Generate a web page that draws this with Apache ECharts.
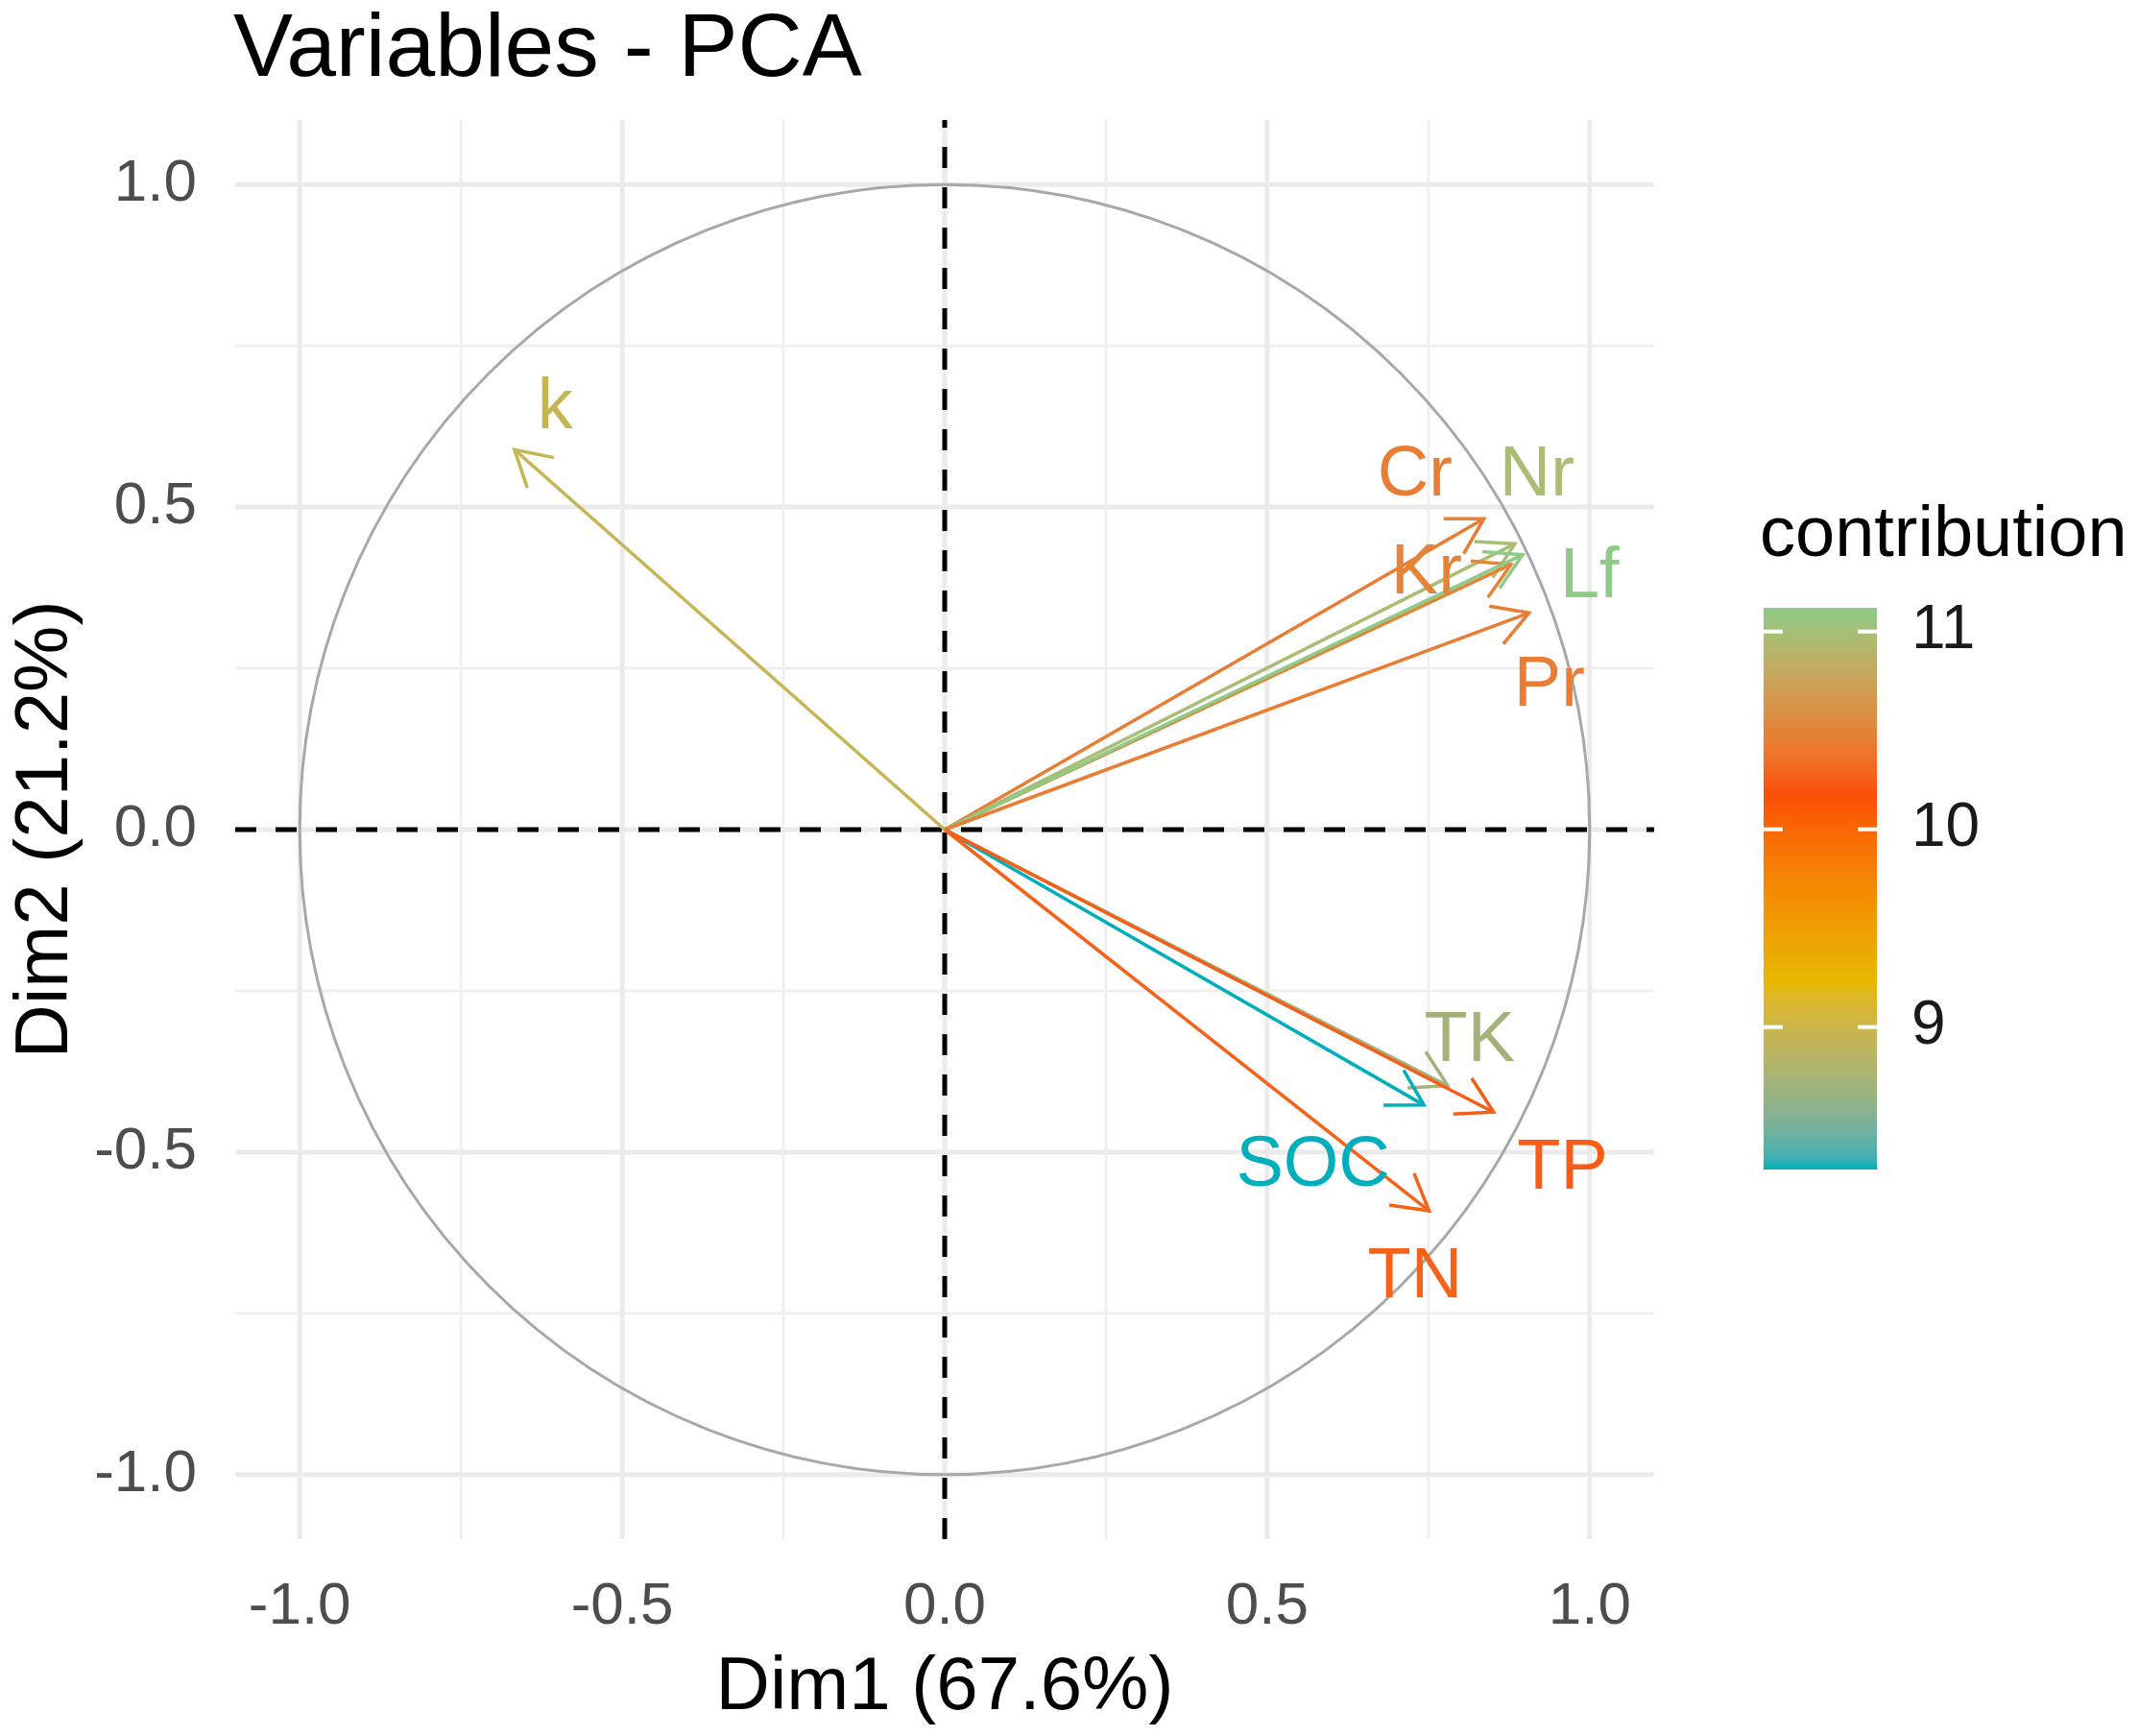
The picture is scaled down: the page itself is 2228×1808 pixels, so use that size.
<!DOCTYPE html>
<html>
<head>
<meta charset="utf-8">
<title>Variables - PCA</title>
<script src="https://cdn.jsdelivr.net/npm/echarts/dist/echarts.min.js"></script>
<style>
    html, body { margin: 0; padding: 0; background: #fff; }
    #J_pcaChart { width: 2228px; height: 1808px; }
</style>
</head>
<body>
<div id="J_pcaChart"></div>
<script>
// variable coordinates on Dim1 / Dim2
var varNames = ['k', 'Cr', 'Nr', 'Kr', 'Lf', 'Pr', 'TK', 'SOC', 'TP', 'TN'];
var dim1 = [-0.667, 0.836, 0.884, 0.878, 0.896, 0.906, 0.780, 0.743, 0.851, 0.751];
var dim2 = [0.589, 0.482, 0.443, 0.411, 0.426, 0.336, -0.397, -0.427, -0.438, -0.591];
var contrib = [8.95, 10.45, 10.98, 10.5, 11.12, 10.45, 8.72, 8.28, 10.25, 10.28];
// where the (repelled) labels ended up
var labelDim1 = [-0.604, 0.729, 0.918, 0.747, 1.0, 0.9375, 0.814, 0.571, 0.958, 0.729];
var labelDim2 = [0.652, 0.549, 0.549, 0.396, 0.391, 0.222, -0.329, -0.522, -0.527, -0.695];

var majorTicks = [-1, -0.5, 0, 0.5, 1];
var minorTicks = [-0.75, -0.25, 0.25, 0.75];
var legendTicks = [9, 10, 11];
var axisMin = -1.1, axisMax = 1.1;

;(function(window){
    var FONT = '"Liberation Sans", Arial, sans-serif';
    var gradientCols = ['#00AFBB', '#E7B800', '#FC4E07', '#8ECB86'];
    var cMin = Math.min.apply(null, contrib);
    var cMax = Math.max.apply(null, contrib);

    // ggplot blends gradient colours in Lab space, rgb blending looks too green
    function toLab(hex){
        var v = [1, 3, 5].map(function(i){
            var c = parseInt(hex.substr(i, 2), 16) / 255;
            return c <= 0.04045 ? c / 12.92 : Math.pow((c + 0.055) / 1.055, 2.4);
        });
        var x = (0.4124 * v[0] + 0.3576 * v[1] + 0.1805 * v[2]) / 0.95047;
        var y = 0.2126 * v[0] + 0.7152 * v[1] + 0.0722 * v[2];
        var z = (0.0193 * v[0] + 0.1192 * v[1] + 0.9505 * v[2]) / 1.08883;
        var f = function(t){ return t > 0.008856 ? Math.cbrt(t) : 7.787 * t + 16 / 116; };
        return [116 * f(y) - 16, 500 * (f(x) - f(y)), 200 * (f(y) - f(z))];
    }
    function fromLab(lab){
        var fy = (lab[0] + 16) / 116, fx = fy + lab[1] / 500, fz = fy - lab[2] / 200;
        var inv = function(t){ var t3 = t * t * t; return t3 > 0.008856 ? t3 : (t - 16 / 116) / 7.787; };
        var x = inv(fx) * 0.95047, y = inv(fy), z = inv(fz) * 1.08883;
        var rgb = [
            3.2406 * x - 1.5372 * y - 0.4986 * z,
            -0.9689 * x + 1.8758 * y + 0.0415 * z,
            0.0557 * x - 0.2040 * y + 1.0570 * z
        ].map(function(c){
            c = c <= 0.0031308 ? 12.92 * c : 1.055 * Math.pow(c, 1 / 2.4) - 0.055;
            return Math.round(Math.max(0, Math.min(1, c)) * 255);
        });
        return 'rgb(' + rgb.join(',') + ')';
    }
    var rampCols = [];
    var steps = 16;
    for (var s = 0; s < gradientCols.length - 1; s++) {
        var a = toLab(gradientCols[s]), b = toLab(gradientCols[s + 1]);
        for (var j = 0; j < steps; j++) {
            var t = j / steps;
            rampCols.push(fromLab([a[0] + (b[0] - a[0]) * t, a[1] + (b[1] - a[1]) * t, a[2] + (b[2] - a[2]) * t]));
        }
    }
    rampCols.push(fromLab(toLab(gradientCols[gradientCols.length - 1])));

    var arrowData = varNames.map(function(n, i){ return [dim1[i], dim2[i], contrib[i], n]; });
    var labelData = varNames.map(function(n, i){ return [labelDim1[i], labelDim2[i], contrib[i], n]; });

    function hLine(api, v, style){
        var p = api.coord([axisMin, v]), q = api.coord([axisMax, v]);
        return {type: 'line', shape: {x1: p[0], y1: p[1], x2: q[0], y2: q[1]}, style: style};
    }
    function vLine(api, v, style){
        var p = api.coord([v, axisMin]), q = api.coord([v, axisMax]);
        return {type: 'line', shape: {x1: p[0], y1: p[1], x2: q[0], y2: q[1]}, style: style};
    }

    function renderPanel(params, api){
        var children = [];
        var minor = {stroke: '#F0F0F0', lineWidth: 3};
        var major = {stroke: '#EBEBEB', lineWidth: 5};
        minorTicks.forEach(function(v){
            children.push(vLine(api, v, minor));
            children.push(hLine(api, v, minor));
        });
        majorTicks.forEach(function(v){
            children.push(vLine(api, v, major));
            children.push(hLine(api, v, major));
        });
        var c = api.coord([0, 0]);
        var r = api.size([1, 1])[0];
        children.push({type: 'circle', shape: {cx: c[0], cy: c[1], r: r},
            style: {fill: 'none', stroke: '#A8A8A8', lineWidth: 3}});
        var dash = {stroke: '#000', lineWidth: 5, lineDash: [22, 20]};
        children.push(hLine(api, 0, dash));
        children.push(vLine(api, 0, dash));
        return {type: 'group', children: children};
    }

    function renderArrow(params, api){
        var p0 = api.coord([0, 0]);
        var p1 = api.coord([api.value(0), api.value(1)]);
        var color = api.visual('color');
        var ang = Math.atan2(p1[1] - p0[1], p1[0] - p0[0]);
        var len = 42, spread = Math.PI / 6;
        var w1 = [p1[0] - len * Math.cos(ang - spread), p1[1] - len * Math.sin(ang - spread)];
        var w2 = [p1[0] - len * Math.cos(ang + spread), p1[1] - len * Math.sin(ang + spread)];
        return {
            type: 'group',
            children: [
                {type: 'line', shape: {x1: p0[0], y1: p0[1], x2: p1[0], y2: p1[1]},
                    style: {stroke: color, lineWidth: 3.5}},
                {type: 'polyline', shape: {points: [w1, p1, w2]},
                    style: {stroke: color, fill: 'none', lineWidth: 3.5}}
            ]
        };
    }

    function renderLabel(params, api){
        var p = api.coord([api.value(0), api.value(1)]);
        return {
            type: 'text', x: p[0], y: p[1],
            style: {text: varNames[params.dataIndex], fill: api.visual('color'),
                fontSize: 74, fontFamily: FONT, align: 'center', verticalAlign: 'middle'}
        };
    }

    function renderColorbar(params, api){
        var top = api.coord([0, cMax]);
        var bot = api.coord([1, cMin]);
        var stops = rampCols.map(function(col, i){
            return {offset: i / (rampCols.length - 1), color: col};
        });
        var children = [{
            type: 'rect',
            shape: {x: top[0], y: top[1], width: bot[0] - top[0], height: bot[1] - top[1]},
            style: {fill: new echarts.graphic.LinearGradient(0, 1, 0, 0, stops)}
        }];
        var tickLen = 20;
        legendTicks.forEach(function(v){
            var l = api.coord([0, v]), rr = api.coord([1, v]);
            var st = {stroke: '#fff', lineWidth: 4};
            children.push({type: 'line', shape: {x1: l[0], y1: l[1], x2: l[0] + tickLen, y2: l[1]}, style: st});
            children.push({type: 'line', shape: {x1: rr[0] - tickLen, y1: rr[1], x2: rr[0], y2: rr[1]}, style: st});
        });
        return {type: 'group', children: children};
    }

    var tickFmt = function(v){ return Number(v).toFixed(1); };

    var option = {
        backgroundColor: '#fff',
        animation: false,
        title: {
            text: 'Variables - PCA', left: 238, top: 2,
            textStyle: {fontSize: 93, fontWeight: 'normal', color: '#000', fontFamily: FONT}
        },
        graphic: [{
            type: 'text', left: 1833, top: 522,
            style: {text: 'contribution', fontSize: 74, fill: '#000', fontFamily: FONT}
        }],
        grid: [
            {left: 245, top: 125, width: 1478, height: 1478},
            {left: 1837, top: 633, width: 118, height: 585}
        ],
        xAxis: [{
            type: 'value', gridIndex: 0, min: axisMin, max: axisMax,
            name: 'Dim1 (67.6%)', nameLocation: 'middle', nameGap: 116,
            nameTextStyle: {fontSize: 78, color: '#000', fontFamily: FONT},
            axisLine: {show: false},
            axisTick: {show: true, customValues: majorTicks, length: 22, lineStyle: {color: '#333', width: 3}},
            axisLabel: {customValues: majorTicks, formatter: tickFmt, fontSize: 62, color: '#4D4D4D', margin: 40, fontFamily: FONT},
            splitLine: {show: false}
        }, {
            type: 'value', gridIndex: 1, min: 0, max: 1, show: false
        }],
        yAxis: [{
            type: 'value', gridIndex: 0, min: axisMin, max: axisMax,
            name: 'Dim2 (21.2%)', nameLocation: 'middle', nameGap: 158, nameRotate: 90,
            nameTextStyle: {fontSize: 78, color: '#000', fontFamily: FONT},
            axisLine: {show: false},
            axisTick: {show: true, customValues: majorTicks, length: 22, lineStyle: {color: '#333', width: 3}},
            axisLabel: {customValues: majorTicks, formatter: tickFmt, fontSize: 62, color: '#4D4D4D', margin: 40, fontFamily: FONT},
            splitLine: {show: false}
        }, {
            type: 'value', gridIndex: 1, min: cMin, max: cMax, position: 'right',
            axisLine: {show: false}, axisTick: {show: false}, splitLine: {show: false},
            axisLabel: {customValues: legendTicks, fontSize: 64, color: '#1A1A1A', margin: 36, fontFamily: FONT}
        }],
        visualMap: {
            type: 'continuous', show: false, dimension: 2, min: cMin, max: cMax,
            seriesIndex: [1, 2],
            inRange: {color: rampCols}
        },
        series: [
            {type: 'custom', xAxisIndex: 0, yAxisIndex: 0, renderItem: renderPanel, data: [[0, 0]], silent: true, z: 1},
            {type: 'custom', xAxisIndex: 0, yAxisIndex: 0, renderItem: renderArrow, data: arrowData, z: 3,
                encode: {x: 0, y: 1}},
            {type: 'custom', xAxisIndex: 0, yAxisIndex: 0, renderItem: renderLabel, data: labelData, z: 4,
                encode: {x: 0, y: 1}},
            {type: 'custom', xAxisIndex: 1, yAxisIndex: 1, renderItem: renderColorbar, data: [[0, cMin]], silent: true, z: 2}
        ]
    };

    var myChart = echarts.init(document.getElementById('J_pcaChart'));
    myChart.setOption(option);
})(window);
</script>
</body>
</html>
